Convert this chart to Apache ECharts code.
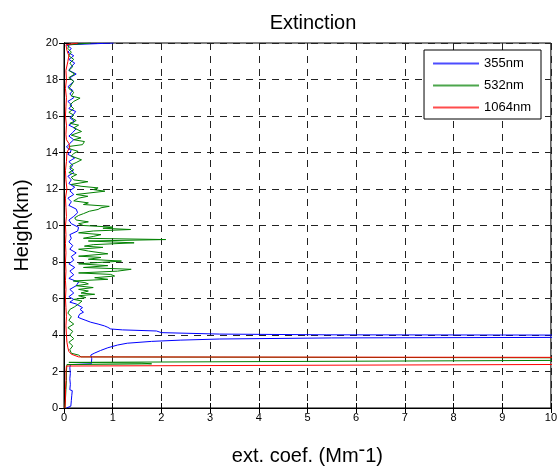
<!DOCTYPE html>
<html>
<head>
<meta charset="utf-8">
<script src="https://cdn.jsdelivr.net/npm/echarts@6/dist/echarts.min.js"></script>
<style>
    html, body { margin: 0; padding: 0; background: #fff; }
    #chart { width: 560px; height: 471px; }
</style>
</head>
<body>
<div id="chart"></div>
<script>
// [height km, ext. coef.]; >10 runs off the axes
const blue355 = [
    [0.0, 0.05], [0.1, 0.14], [0.4, 0.15], [0.7, 0.16], [0.95, 0.17], [1.0, 0.12], [1.3, 0.13],
    [1.6, 0.12], [1.9, 0.13], [2.2, 0.12], [2.38, 0.13], [2.42, 0.56], [2.5, 0.58], [2.7, 0.57],
    [2.9, 0.55], [3.0, 0.62], [3.15, 0.75], [3.3, 0.9], [3.45, 1.1], [3.55, 1.3], [3.65, 1.8],
    [3.72, 2.4], [3.78, 3.2], [3.84, 5.5], [3.88, 12], [3.99, 12], [4.01, 5.4], [4.05, 3.2],
    [4.13, 2.0], [4.22, 1.9], [4.28, 1.2], [4.33, 0.96], [4.42, 0.9], [4.5, 0.83], [4.6, 0.7],
    [4.7, 0.55], [4.8, 0.45], [4.9, 0.35], [4.97, 0.29], [5.05, 0.3], [5.14, 0.32], [5.25, 0.4],
    [5.32, 0.42], [5.4, 0.33], [5.5, 0.38], [5.59, 0.39], [5.7, 0.25], [5.8, 0.12], [5.86, 0.1],
    [5.95, 0.2], [6.1, 0.1], [6.3, 0.2], [6.5, 0.12], [6.7, 0.25], [6.9, 0.3], [7.1, 0.1],
    [7.3, 0.2], [7.5, 0.12], [7.7, 0.22], [7.9, 0.1], [8.1, 0.2], [8.3, 0.15], [8.5, 0.25],
    [8.7, 0.12], [8.9, 0.18], [9.1, 0.1], [9.3, 0.15], [9.5, 0.12], [9.7, 0.28], [9.9, 0.3],
    [10.1, 0.15], [10.3, 0.1], [10.5, 0.2], [10.7, 0.28], [10.9, 0.25], [11.1, 0.1], [11.3, 0.15],
    [11.5, 0.08], [11.7, 0.2], [11.9, 0.12], [12.1, 0.22], [12.3, 0.1], [12.5, 0.15], [12.7, 0.08],
    [12.9, 0.2], [13.1, 0.12], [13.3, 0.18], [13.5, 0.1], [13.7, 0.22], [13.9, 0.08], [14.1, 0.15],
    [14.3, 0.05], [14.5, 0.12], [14.7, 0.2], [14.9, 0.1], [15.1, 0.18], [15.3, 0.25], [15.5, 0.1],
    [15.7, 0.22], [15.9, 0.12], [16.1, 0.2], [16.25, 0.24], [16.4, 0.1], [16.6, 0.16], [16.8, 0.08],
    [17.0, 0.2], [17.2, 0.12], [17.4, 0.18], [17.6, 0.08], [17.9, 0.2], [18.1, 0.12], [18.3, 0.25],
    [18.5, 0.1], [18.7, 0.15], [18.9, 0.22], [19.1, 0.1], [19.3, 0.2], [19.5, 0.08], [19.7, 0.15],
    [19.9, 0.05], [19.97, 0.05], [20.0, 1.02]
];
const green532 = [
    [0.0, 0.02], [0.5, 0.03], [1.0, 0.04], [1.5, 0.05], [2.0, 0.05], [2.38, 0.06], [2.42, 1.8],
    [2.46, 1.6], [2.5, 0.1], [2.6, 0.12], [2.63, 12], [2.74, 12], [2.8, 0.35], [2.9, 0.3],
    [3.0, 0.15], [3.2, 0.12], [3.4, 0.18], [3.6, 0.1], [3.8, 0.2], [4.0, 0.12], [4.2, 0.18],
    [4.4, 0.08], [4.6, 0.2], [4.8, 0.1], [5.0, 0.15], [5.2, 0.08], [5.4, 0.12], [5.55, 0.22],
    [5.7, 0.3], [5.86, 0.37], [5.95, 0.2], [6.05, 0.45], [6.15, 0.3], [6.23, 0.63], [6.3, 0.35],
    [6.41, 0.5], [6.5, 0.3], [6.6, 0.6], [6.7, 0.25], [6.8, 0.5], [6.87, 0.43], [6.96, 0.19],
    [7.05, 0.9], [7.14, 0.63], [7.23, 1.04], [7.32, 0.96], [7.4, 0.3], [7.5, 1.1], [7.6, 1.38],
    [7.7, 0.4], [7.8, 0.9], [7.9, 0.3], [8.05, 1.18], [8.15, 0.5], [8.25, 0.76], [8.32, 0.3],
    [8.45, 0.9], [8.6, 0.5], [8.7, 0.3], [8.8, 0.8], [8.87, 0.42], [8.95, 0.6], [9.05, 1.44],
    [9.15, 0.5], [9.23, 2.09], [9.3, 0.4], [9.4, 0.6], [9.5, 0.76], [9.6, 0.3], [9.7, 0.6],
    [9.78, 1.37], [9.85, 0.8], [9.91, 1.0], [10.0, 0.4], [10.1, 0.3], [10.2, 0.5], [10.3, 0.25],
    [10.42, 0.22], [10.55, 0.3], [10.65, 0.4], [10.78, 0.52], [10.88, 0.7], [10.97, 0.76],
    [11.05, 0.93], [11.15, 0.4], [11.24, 0.5], [11.35, 0.2], [11.5, 0.3], [11.6, 0.49],
    [11.7, 0.25], [11.88, 0.84], [11.97, 0.6], [12.06, 0.7], [12.15, 0.35], [12.25, 0.15],
    [12.4, 0.49], [12.5, 0.2], [12.65, 0.15], [12.79, 0.26], [12.9, 0.1], [13.05, 0.2],
    [13.2, 0.12], [13.33, 0.15], [13.45, 0.25], [13.6, 0.36], [13.7, 0.35], [13.8, 0.15],
    [13.95, 0.2], [14.06, 0.29], [14.2, 0.12], [14.33, 0.1], [14.43, 0.38], [14.6, 0.42],
    [14.7, 0.2], [14.8, 0.35], [14.95, 0.15], [15.15, 0.36], [15.25, 0.39], [15.35, 0.2],
    [15.5, 0.3], [15.6, 0.12], [15.75, 0.25], [15.9, 0.15], [16.05, 0.2], [16.2, 0.1],
    [16.4, 0.2], [16.6, 0.12], [16.8, 0.2], [16.98, 0.33], [17.1, 0.15], [17.3, 0.2],
    [17.5, 0.1], [17.7, 0.15], [17.9, 0.2], [18.1, 0.1], [18.3, 0.22], [18.5, 0.1],
    [18.7, 0.18], [18.9, 0.12], [19.1, 0.2], [19.3, 0.1], [19.5, 0.15], [19.7, 0.08],
    [19.9, 0.1], [19.97, 0.1], [20.0, 0.55]
];
const red1064 = [
    [0.0, 0.02], [0.5, 0.03], [1.0, 0.03], [1.5, 0.04], [2.0, 0.04], [2.3, 0.05], [2.38, 0.06],
    [2.40, 12], [2.77, 12], [2.80, 0.3], [2.86, 0.28], [2.95, 0.15], [3.1, 0.1], [3.3, 0.08],
    [3.6, 0.06], [4.0, 0.05], [4.5, 0.04], [5.0, 0.05], [5.5, 0.04], [6.0, 0.03], [6.5, 0.04],
    [7.0, 0.03], [7.5, 0.04], [8.0, 0.03], [8.5, 0.04], [9.0, 0.03], [9.5, 0.04], [10.0, 0.03],
    [10.5, 0.05], [11.0, 0.04], [11.5, 0.03], [12.0, 0.06], [12.5, 0.04], [13.0, 0.03],
    [13.5, 0.05], [14.0, 0.06], [14.3, 0.12], [14.5, 0.1], [14.7, 0.05], [15.0, 0.04],
    [15.5, 0.05], [16.0, 0.03], [16.5, 0.04], [17.0, 0.05], [17.5, 0.03], [18.0, 0.05],
    [18.5, 0.04], [19.0, 0.08], [19.3, 0.1], [19.6, 0.06], [19.9, 0.04], [19.97, 0.04], [20.0, 0.29]
];
const seriesNames = ['355nm', '532nm', '1064nm'];
const seriesColors = ['#0000ff', '#008000', '#ff0000'];
const profiles = [blue355, green532, red1064];

const font = 'Liberation Sans, Arial, sans-serif';
const gridLine = {show: true, lineStyle: {color: '#222', width: 1, type: [7, 6]}};

let myChart = echarts.init(document.getElementById('chart'));
myChart.setOption({
    animation: false,
    title: {
        text: 'Extinction',
        left: 308,
        top: 8,
        textAlign: 'center',
        textStyle: {fontFamily: font, fontSize: 20, fontWeight: 'normal', color: '#000'}
    },
    legend: {
        data: seriesNames.map((n, i) => ({
            name: n,
            icon: 'rect',
            itemStyle: {color: seriesColors[i], borderWidth: 0, opacity: 0.7}
        })),
        orient: 'vertical',
        right: 19,
        top: 50,
        itemWidth: 46,
        itemHeight: 2,
        itemGap: 9,
        padding: [7, 10, 5, 9],
        backgroundColor: '#fff',
        borderColor: '#000',
        borderWidth: 1,
        borderRadius: 0,
        textStyle: {fontFamily: font, fontSize: 13, color: '#000'}
    },
    grid: {
        left: 64,
        right: 7,
        top: 43,
        bottom: 62,
        show: true,
        borderColor: '#000',
        borderWidth: 1
    },
    xAxis: [{
        type: 'value',
        min: 0,
        max: 10,
        interval: 1,
        name: 'ext. coef. (Mm{sup|-}1)',
        nameLocation: 'middle',
        nameGap: 32,
        nameTextStyle: {
            fontFamily: font, fontSize: 20, color: '#000',
            rich: {sup: {fontFamily: font, fontSize: 20, color: '#000', verticalAlign: 'top', padding: [0, 0, 12, 0]}}
        },
        axisLine: {lineStyle: {color: '#000'}},
        axisTick: {inside: true, length: 5, lineStyle: {color: '#000'}},
        axisLabel: {color: '#000', fontFamily: font, fontSize: 11, margin: 4},
        splitLine: gridLine
    }, {
        type: 'value',
        min: 0,
        max: 10,
        interval: 1,
        position: 'top',
        axisLine: {lineStyle: {color: '#000'}},
        axisTick: {inside: true, length: 5, lineStyle: {color: '#000'}},
        axisLabel: {show: false},
        splitLine: {show: false}
    }],
    yAxis: [{
        type: 'value',
        min: 0,
        max: 20,
        interval: 2,
        name: 'Heigh(km)',
        nameLocation: 'middle',
        nameGap: 32,
        nameTextStyle: {fontFamily: font, fontSize: 20, color: '#000'},
        axisLine: {show: true, lineStyle: {color: '#000'}},
        axisTick: {show: true, inside: true, length: 5, lineStyle: {color: '#000'}},
        axisLabel: {color: '#000', fontFamily: font, fontSize: 11, margin: 6},
        splitLine: gridLine
    }, {
        type: 'value',
        min: 0,
        max: 20,
        interval: 2,
        position: 'right',
        axisLine: {show: true, lineStyle: {color: '#000'}},
        axisTick: {show: true, inside: true, length: 5, lineStyle: {color: '#000'}},
        axisLabel: {show: false},
        splitLine: {show: false}
    }],
    series: profiles.map((p, i) => ({
        name: seriesNames[i],
        type: 'line',
        xAxisIndex: 0,
        yAxisIndex: 0,
        showSymbol: false,
        symbol: 'none',
        clip: true,
        data: p.map(d => [d[1], d[0]]),
        itemStyle: {color: seriesColors[i]},
        lineStyle: {color: seriesColors[i], width: 1}
    }))
});
</script>
</body>
</html>
